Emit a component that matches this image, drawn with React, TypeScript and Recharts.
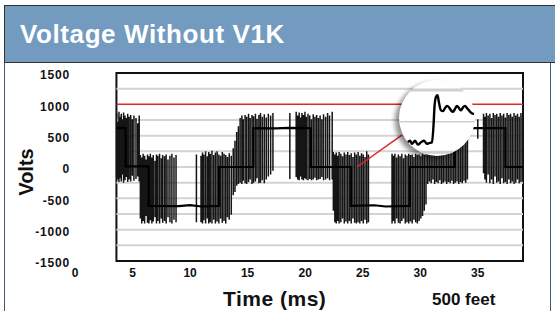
import React from "react";
import { LineChart, Line, XAxis, YAxis, ReferenceLine, ReferenceArea } from "recharts";

const FONT = 'Arial, "Liberation Sans", Helvetica, sans-serif';

// axes
const xTicks = [0, 5, 10, 15, 20, 25, 30, 35];
const yTicks = [-1500, -1000, -500, 0, 500, 1000, 1500];
const gridVolts = [-1250, -1000, -750, -500, -250, 0, 250, 500, 750, 1250];
const limitVolts = 1000;
const boxStart = 3.6;
const boxEnd = 38.93;

// dc bus level the inverter output sits on (ms, V)
const baseTime = [3.6, 4.4, 4.4, 6.4, 6.4, 9.0, 10.0, 11.0, 12.5, 12.5, 15.5, 15.5, 17.5, 18.5, 20.5, 20.5, 24.0, 24.0, 26.0, 27.0, 29.1, 29.1, 33.0, 33.0, 37.4, 37.4, 38.93];
const baseVolts = [620, 620, 10, 10, -620, -625, -610, -630, -620, 0, 0, 620, 615, 625, 620, 0, 0, -620, -610, -630, -620, 0, 0, 620, 620, 0, 0];

// switching spikes: [ms, peak V, trough V]
const spikesA: [number, number, number][] = [
  [3.62, 860, -150], [3.72, 720, -200], [3.82, 880, -240], [3.92, 800, -180], [4.02, 850, -230],
  [4.12, 760, -120], [4.22, 870, -250], [4.34, 820, -210], [4.46, 780, -160], [4.58, 850, -240],
  [4.7, 800, -200], [4.84, 830, -230], [4.98, 760, -140], [5.12, 820, -220], [5.3, 780, -190],
  [5.45, 700, -150], [5.58, 820, -230],
];
const spikesB: [number, number, number][] = [
  [5.68, 190, -820], [5.8, 150, -900], [5.92, 210, -860], [6.05, 180, -900], [6.18, 120, -780],
  [6.3, 200, -890], [6.42, 170, -900], [6.55, 210, -850], [6.68, 150, -900], [6.8, 190, -870],
  [6.95, 100, -800], [7.08, 200, -900], [7.2, 180, -860], [7.35, 210, -900], [7.5, 140, -820],
  [7.62, 190, -890], [7.78, 170, -860], [7.92, 200, -900], [8.08, 120, -800], [8.25, 180, -880],
  [8.42, 210, -900], [8.6, 150, -840], [8.78, 190, -880], [10.55, 200, -880],
];
const spikesC: [number, number, number][] = [
  [10.95, 180, -880], [11.08, 230, -900], [11.2, 200, -850], [11.35, 250, -900], [11.5, 170, -820],
  [11.62, 240, -900], [11.75, 210, -880], [11.9, 260, -900], [12.05, 190, -840], [12.2, 230, -900],
  [12.35, 250, -870], [12.5, 200, -900], [12.65, 180, -820], [12.8, 240, -890], [12.95, 210, -860],
  [13.1, 190, -900], [13.25, 160, -800], [13.4, 220, -840], [13.58, 180, -760],
];
const spikesD: [number, number, number][] = [
  [13.75, 300, -450], [13.9, 420, -400], [14.05, 560, -300], [14.2, 650, -270], [14.35, 780, -250],
  [14.5, 820, -270], [14.62, 760, -220], [14.78, 830, -260], [14.92, 800, -270], [15.08, 850, -240],
  [15.22, 780, -200], [15.38, 830, -270], [15.52, 810, -250], [15.68, 850, -230], [15.82, 770, -180],
  [15.98, 830, -260], [16.12, 860, -250], [16.28, 800, -210], [16.45, 840, -260], [16.62, 790, -200],
  [16.8, 850, -150], [17.0, 820, -120], [17.2, 860, -60], [18.67, 860, -190],
];
const spikesE: [number, number, number][] = [
  [19.22, 880, -160], [19.35, 820, -200], [19.48, 870, -210], [19.6, 790, -150], [19.72, 860, -200],
  [19.85, 830, -210], [19.98, 880, -180], [20.1, 800, -200], [20.25, 850, -210], [20.4, 820, -190],
  [20.55, 760, -210], [20.7, 840, -200], [20.85, 800, -170], [21.0, 830, -210], [21.15, 780, -200],
  [21.3, 820, -190], [21.45, 760, -160], [21.6, 840, -210], [21.78, 800, -200], [21.95, 860, -180],
  [22.12, 820, -210], [22.35, 880, -200],
];
const spikesF: [number, number, number][] = [
  [22.45, 240, -700], [22.58, 200, -880], [22.7, 230, -900], [22.82, 180, -860], [22.95, 240, -900],
  [23.1, 210, -880], [23.25, 170, -820], [23.4, 230, -900], [23.55, 200, -870], [23.7, 240, -900],
  [23.85, 190, -860], [24.0, 220, -900], [24.15, 160, -820], [24.3, 230, -890], [24.45, 200, -900],
  [24.6, 240, -880], [24.75, 180, -900], [24.9, 220, -860], [25.05, 200, -900], [25.2, 160, -840],
  [25.35, 250, -900], [25.5, 200, -880],
];
const spikesG: [number, number, number][] = [
  [27.55, 210, -900], [27.68, 180, -860], [27.8, 210, -900], [27.95, 150, -820], [28.1, 200, -890],
  [28.25, 170, -900], [28.4, 210, -860], [28.55, 140, -820], [28.7, 200, -900], [28.85, 180, -880],
  [29.0, 210, -900], [29.15, 190, -870], [29.3, 200, -900], [29.45, 160, -840], [29.6, 210, -880],
  [29.75, 190, -900], [29.9, 200, -860], [30.05, 170, -820], [30.2, 210, -780], [30.35, 190, -700],
  [30.5, 200, -600],
];
const spikesH: [number, number, number][] = [
  [30.65, 850, -270], [30.8, 820, -230], [30.95, 850, -260], [31.1, 800, -200], [31.25, 850, -270],
  [31.4, 830, -240], [31.55, 850, -260], [31.7, 800, -210], [31.85, 850, -270], [32.0, 820, -250],
  [32.15, 850, -230], [32.3, 800, -270], [32.45, 850, -240], [32.6, 830, -260], [32.75, 850, -220],
  [32.9, 800, -270], [33.05, 850, -250], [33.2, 820, -230], [33.35, 850, -270], [33.5, 800, -240],
  [33.65, 850, -260], [33.8, 830, -220], [33.95, 850, -250], [34.1, 820, -200],
];
const spikesI: [number, number, number][] = [
  [35.0, 760, 450], [35.5, 850, -100], [35.62, 800, -200], [35.75, 860, -250], [35.9, 820, -120],
  [36.05, 850, -260], [36.2, 780, -200], [36.35, 860, -270], [36.5, 830, -150], [36.65, 850, -250],
  [36.8, 800, -230], [36.95, 860, -270], [37.1, 820, -180], [37.25, 850, -260], [37.4, 790, -240],
  [37.55, 860, -270], [37.7, 830, -200], [37.85, 850, -260], [38.0, 800, -230], [38.15, 860, -270],
  [38.3, 820, -250], [38.45, 850, -200], [38.6, 800, -260], [38.75, 860, -240], [38.9, 830, -220],
];

// magnified edge shown in the circle
const insetTime = [8, 11, 13, 16, 19, 22, 25, 28, 30, 33, 34.5, 35.5, 37, 38.5, 40, 42, 44, 46, 48, 50, 52, 54, 56, 58, 60, 62, 64, 66, 68, 70, 72, 75];
const insetVolts = [17, 20, 16, 20, 15, 18, 20, 16, 17, 18, 40, 65, 78, 80, 70, 60, 59, 63, 66, 64, 60, 58, 62, 66, 63, 60, 64, 66, 63, 60, 57, 55];
const insetGrid = [87, 45, 5];

const allSpikes = [...spikesA, ...spikesB, ...spikesC, ...spikesD, ...spikesE, ...spikesF, ...spikesG, ...spikesH, ...spikesI];
const spikeData = allSpikes.flatMap(([t, hi, lo]) => [
  { t, v: hi },
  { t, v: lo },
  { t, v: null },
]);
const baseData = baseTime.map((t, i) => ({ t, v: baseVolts[i] }));
const insetData = insetTime.map((t, i) => ({ t, v: insetVolts[i] }));

const tickStyle = { fontSize: 12, fontWeight: 700, fill: "#111", fontFamily: FONT };

export default function App() {
  return (
    <div style={{ position: "absolute", left: 0, top: 0, width: 555, height: 311, background: "#fff", overflow: "hidden", fontFamily: FONT }}>
      {/* panel frame */}
      <div style={{ position: "absolute", left: 4, top: 5, width: 547, height: 330, border: "1px solid #3f5a7a", boxSizing: "border-box" }} />
      <div style={{ position: "absolute", left: 4, top: 5, width: 551, height: 58, background: "#739abf", borderTop: "1px solid #333", borderLeft: "1px solid #333", borderBottom: "1px solid #333", boxSizing: "border-box" }} />
      <div style={{ position: "absolute", left: 20, top: 21, fontSize: 26, lineHeight: "26px", fontWeight: 700, color: "#fff", letterSpacing: 0.6, whiteSpace: "nowrap" }}>
        Voltage Without V1K
      </div>

      <div style={{ position: "absolute", left: 0, top: 0 }}>
        <LineChart width={555} height={311} margin={{ top: 73, right: 32, bottom: 0, left: 0 }}>
          <XAxis
            dataKey="t"
            type="number"
            domain={[0, boxEnd]}
            ticks={xTicks}
            interval={0}
            allowDataOverflow
            axisLine={false}
            tickLine={false}
            tickSize={0}
            tickMargin={7}
            height={50}
            tick={tickStyle}
          />
          <YAxis
            type="number"
            domain={[-1500, 1500]}
            ticks={yTicks}
            interval={0}
            axisLine={false}
            tickLine={false}
            tickSize={0}
            tickMargin={5}
            width={75}
            tick={{ ...tickStyle, letterSpacing: 0.8, dy: 2 }}
          />
          {gridVolts.map((g) => (
            <ReferenceLine
              key={g}
              segment={[{ x: boxStart, y: g }, { x: boxEnd, y: g }]}
              stroke="#d3d3d3"
              strokeWidth={2}
            />
          ))}
          <ReferenceLine
            segment={[{ x: boxStart, y: limitVolts }, { x: boxEnd, y: limitVolts }]}
            stroke="#e02626"
            strokeWidth={1.5}
          />
          <Line
            data={spikeData}
            dataKey="v"
            type="linear"
            stroke="#151515"
            strokeWidth={1.5}
            dot={false}
            activeDot={false}
            connectNulls={false}
            isAnimationActive={false}
          />
          <Line
            data={baseData}
            dataKey="v"
            type="linear"
            stroke="#000"
            strokeWidth={2.2}
            dot={false}
            activeDot={false}
            isAnimationActive={false}
          />
          <ReferenceLine
            segment={[{ x: 24.5, y: 0 }, { x: 28.4, y: 510 }]}
            stroke="#e02626"
            strokeWidth={1.5}
          />
          <ReferenceArea
            x1={boxStart}
            x2={boxEnd}
            y1={-1500}
            y2={1500}
            fill="none"
            fillOpacity={0}
            stroke="#111"
            strokeWidth={2}
            ifOverflow="visible"
          />
        </LineChart>
      </div>

      {/* magnifier */}
      <div style={{ position: "absolute", left: 399, top: 80, width: 76, height: 76, borderRadius: "50%", overflow: "hidden", background: "#fff", boxShadow: "-4px 3px 5px rgba(0,0,0,0.45)" }}>
        <LineChart width={76} height={76} margin={{ top: 0, right: 0, bottom: 0, left: 0 }}>
          <XAxis dataKey="t" type="number" domain={[0, 76]} hide />
          <YAxis type="number" domain={[0, 100]} hide />
          {insetGrid.map((g, i) => (
            <ReferenceLine key={g} y={g} stroke="#cfcfcf" strokeWidth={i === 1 ? 1.5 : 3} />
          ))}
          <Line
            data={insetData}
            dataKey="v"
            type="monotone"
            stroke="#000"
            strokeWidth={2.4}
            dot={false}
            activeDot={false}
            isAnimationActive={false}
          />
        </LineChart>
      </div>

      <div style={{ position: "absolute", left: 26, top: 172, transform: "translate(-50%, -50%) rotate(-90deg)", fontSize: 20, lineHeight: "20px", fontWeight: 700, color: "#111", whiteSpace: "nowrap" }}>
        Volts
      </div>
      <div style={{ position: "absolute", left: 223, top: 288, fontSize: 21, lineHeight: "21px", fontWeight: 700, color: "#111", letterSpacing: 0.5, whiteSpace: "nowrap" }}>
        Time (ms)
      </div>
      <div style={{ position: "absolute", left: 432, top: 291, fontSize: 17, lineHeight: "17px", fontWeight: 700, color: "#111", whiteSpace: "nowrap" }}>
        500 feet
      </div>
    </div>
  );
}
